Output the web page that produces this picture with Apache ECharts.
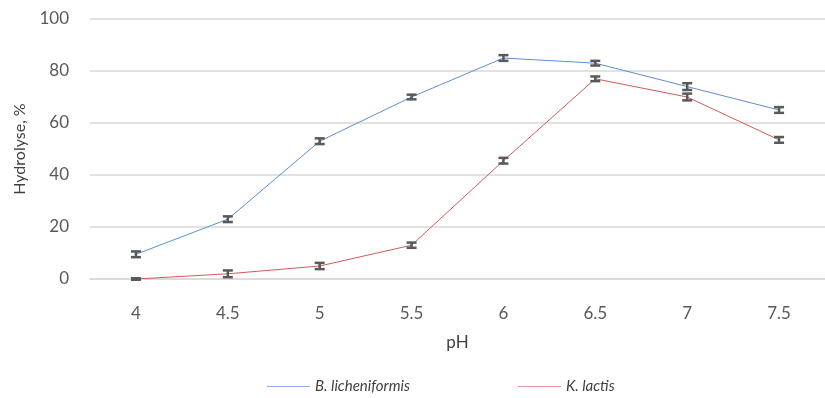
<!DOCTYPE html>
<html>
<head>
<meta charset="utf-8">
<script src="https://cdn.jsdelivr.net/npm/echarts@6/dist/echarts.min.js"></script>
<style>
  html, body { margin: 0; padding: 0; background: #fff; }
  #chart { width: 825px; height: 398px; }
</style>
</head>
<body>
<div id="chart"></div>
<script>
var phLabels = ['4', '4.5', '5', '5.5', '6', '6.5', '7', '7.5'];
var licheniformis = [9.5, 23, 53, 70, 85, 83, 74, 65];
var licheniformisErr = [1.1, 1.1, 1.1, 0.9, 1.1, 0.9, 1.3, 1.1];
var lactis = [0, 2, 5, 13, 45.5, 77, 70, 53.5];
var lactisErr = [0.3, 1.3, 1.2, 1.0, 1.1, 0.9, 1.3, 1.1];
var yTicks = [0, 20, 40, 60, 80, 100];

var font = 'Lato, "Open Sans", sans-serif';

function errData(vals, errs) {
    var out = [];
    for (var i = 0; i < vals.length; i++) {
        out.push([i, vals[i], errs[i]]);
    }
    return out;
}

// error bar with caps
function renderErr(params, api) {
    var x = api.value(0);
    var y = api.value(1);
    var e = api.value(2);
    var hi = api.coord([x, y + e]);
    var lo = api.coord([x, y - e]);
    var w = 5;
    var style = { stroke: '#595959', lineWidth: 2.5 };
    return {
        type: 'group',
        children: [
            { type: 'line', shape: { x1: hi[0], y1: hi[1], x2: lo[0], y2: lo[1] }, style: style },
            { type: 'line', shape: { x1: hi[0] - w, y1: hi[1], x2: hi[0] + w, y2: hi[1] }, style: style },
            { type: 'line', shape: { x1: lo[0] - w, y1: lo[1], x2: lo[0] + w, y2: lo[1] }, style: style }
        ]
    };
}

var chart = echarts.init(document.getElementById('chart'));
var option = {
    animation: false,
    grid: { left: 90, right: -5, top: 19, bottom: 119 },
    legend: {
        top: 374,
        left: 262,
        data: ['B. licheniformis', 'K. lactis'],
        icon: 'rect',
        itemWidth: 43,
        itemHeight: 1,
        itemGap: 108,
        textStyle: { fontFamily: font, fontSize: 15, fontStyle: 'italic', color: '#404040' }
    },
    xAxis: {
        type: 'category',
        data: phLabels,
        name: 'pH',
        nameLocation: 'middle',
        nameGap: 55,
        nameTextStyle: { fontFamily: font, fontSize: 17, color: '#404040' },
        axisLine: { lineStyle: { color: '#d9d9d9', width: 1.5 } },
        axisTick: { show: false },
        axisLabel: { fontFamily: font, fontSize: 17, color: '#595959', margin: 26 }
    },
    yAxis: {
        type: 'value',
        min: yTicks[0],
        max: yTicks[yTicks.length - 1],
        interval: 20,
        name: 'Hydrolyse, %',
        nameLocation: 'middle',
        nameGap: 62,
        nameTextStyle: { fontFamily: font, fontSize: 16, color: '#404040' },
        axisLine: { show: false },
        axisTick: { show: false },
        axisLabel: { fontFamily: font, fontSize: 17, color: '#595959', margin: 21 },
        splitLine: { lineStyle: { color: '#d9d9d9', width: 1.5 } }
    },
    series: [
        {
            name: 'B. licheniformis',
            type: 'line',
            data: licheniformis,
            symbol: 'none',
            lineStyle: { color: '#5b8fd1', width: 1 },
            itemStyle: { color: '#8fb0dc' },
            z: 2
        },
        {
            name: 'K. lactis',
            type: 'line',
            data: lactis,
            symbol: 'none',
            lineStyle: { color: '#d05a5a', width: 1 },
            itemStyle: { color: '#e09a9a' },
            z: 2
        },
        {
            type: 'custom',
            renderItem: renderErr,
            data: errData(licheniformis, licheniformisErr),
            z: 3
        },
        {
            type: 'custom',
            renderItem: renderErr,
            data: errData(lactis, lactisErr),
            z: 3
        }
    ]
};
chart.setOption(option);
</script>
</body>
</html>
